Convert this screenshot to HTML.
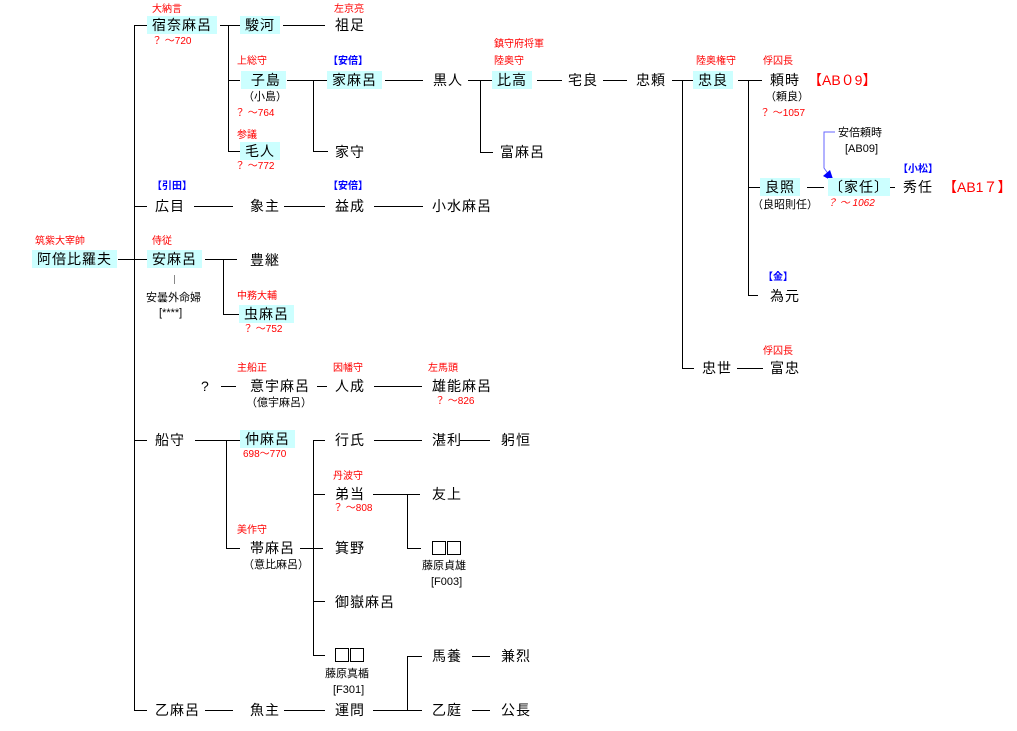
<!DOCTYPE html>
<html><head><meta charset="utf-8"><style>
body{margin:0;width:1017px;height:731px;background:#fff;position:relative;overflow:hidden;font-family:"Liberation Sans","Noto Sans CJK JP",sans-serif}
.n,.r,.b,.s,.R{position:absolute;white-space:nowrap}
.n{font-size:14px;line-height:18px;color:#000;letter-spacing:1px}
.bx{background:#ccffff;padding:0 5px}
.r{font-size:10px;line-height:12px;color:#f00}
.b{font-size:10px;line-height:12px;color:#00f;font-weight:bold}
.s{font-size:11px;line-height:14px;color:#000}
.R{font-size:14px;line-height:18px;color:#f00}
.h,.v{position:absolute;background:#000}
.h{height:1px}.v{width:1px}
.sq{position:absolute;width:12px;height:12px;border:1px solid #000}
</style></head><body>
<!-- lines -->
<div class="h" style="left:118px;top:259px;width:30px"></div>
<div class="v" style="left:134px;top:25px;height:686px"></div>
<div class="h" style="left:134px;top:25px;width:13px"></div>
<div class="h" style="left:134px;top:206px;width:13px"></div>
<div class="h" style="left:134px;top:440px;width:13px"></div>
<div class="h" style="left:134px;top:710px;width:13px"></div>
<div class="h" style="left:220px;top:25px;width:20px"></div>
<div class="v" style="left:228px;top:25px;height:126px"></div>
<div class="h" style="left:228px;top:80px;width:12px"></div>
<div class="h" style="left:228px;top:151px;width:12px"></div>
<div class="h" style="left:283px;top:25px;width:42px"></div>
<div class="h" style="left:287px;top:80px;width:40px"></div>
<div class="v" style="left:313px;top:80px;height:71px"></div>
<div class="h" style="left:313px;top:151px;width:15px"></div>
<div class="h" style="left:385px;top:80px;width:38px"></div>
<div class="h" style="left:468px;top:80px;width:25px"></div>
<div class="v" style="left:480px;top:80px;height:72px"></div>
<div class="h" style="left:480px;top:152px;width:13px"></div>
<div class="h" style="left:537px;top:80px;width:25px"></div>
<div class="h" style="left:603px;top:80px;width:24px"></div>
<div class="h" style="left:672px;top:80px;width:22px"></div>
<div class="v" style="left:682px;top:80px;height:288px"></div>
<div class="h" style="left:682px;top:368px;width:12px"></div>
<div class="h" style="left:738px;top:80px;width:24px"></div>
<div class="v" style="left:748px;top:80px;height:215px"></div>
<div class="h" style="left:748px;top:187px;width:12px"></div>
<div class="h" style="left:748px;top:295px;width:10px"></div>
<div class="h" style="left:807px;top:187px;width:17px"></div>
<div class="h" style="left:876px;top:187px;width:19px"></div>
<div class="h" style="left:737px;top:368px;width:26px"></div>
<div class="h" style="left:194px;top:206px;width:39px"></div>
<div class="h" style="left:284px;top:206px;width:41px"></div>
<div class="h" style="left:374px;top:206px;width:49px"></div>
<div class="h" style="left:205px;top:259px;width:32px"></div>
<div class="v" style="left:223px;top:259px;height:55px"></div>
<div class="h" style="left:223px;top:314px;width:16px"></div>
<div class="v" style="left:174px;top:275px;height:9px;background:#888"></div>
<div class="h" style="left:221px;top:386px;width:15px"></div>
<div class="h" style="left:317px;top:386px;width:10px"></div>
<div class="h" style="left:374px;top:386px;width:48px"></div>
<div class="h" style="left:195px;top:440px;width:45px"></div>
<div class="v" style="left:226px;top:440px;height:108px"></div>
<div class="h" style="left:226px;top:548px;width:14px"></div>
<div class="h" style="left:300px;top:548px;width:23px"></div>
<div class="v" style="left:313px;top:440px;height:215px"></div>
<div class="h" style="left:313px;top:440px;width:12px"></div>
<div class="h" style="left:313px;top:494px;width:12px"></div>
<div class="h" style="left:313px;top:601px;width:12px"></div>
<div class="h" style="left:313px;top:655px;width:12px"></div>
<div class="h" style="left:374px;top:440px;width:48px"></div>
<div class="h" style="left:460px;top:440px;width:30px"></div>
<div class="h" style="left:373px;top:494px;width:47px"></div>
<div class="v" style="left:407px;top:494px;height:54px"></div>
<div class="h" style="left:407px;top:548px;width:14px"></div>
<div class="h" style="left:205px;top:710px;width:28px"></div>
<div class="h" style="left:284px;top:710px;width:41px"></div>
<div class="h" style="left:373px;top:710px;width:49px"></div>
<div class="v" style="left:407px;top:656px;height:54px"></div>
<div class="h" style="left:407px;top:656px;width:15px"></div>
<div class="h" style="left:472px;top:656px;width:18px"></div>
<div class="h" style="left:472px;top:710px;width:18px"></div>
<svg style="position:absolute;left:0;top:0" width="1017" height="731"><polyline points="835,132 824,132 824,168 829,175" fill="none" stroke="#66f" stroke-width="1"/><polygon points="834,182 823,176 830,170" fill="#00f"/></svg>
<!-- names -->
<div class="n bx" style="left:32px;top:250px">阿倍比羅夫</div>
<div class="r" style="left:35px;top:236px">筑紫大宰帥</div>
<div class="n bx" style="left:147px;top:16px">宿奈麻呂</div>
<div class="r" style="left:152px;top:4px">大納言</div>
<div class="r" style="left:152px;top:36px">？ ～720</div>
<div class="n bx" style="left:240px;top:16px">駿河</div>
<div class="n" style="left:335px;top:16px">祖足</div>
<div class="r" style="left:334px;top:4px">左京亮</div>
<div class="r" style="left:237px;top:56px">上総守</div>
<div class="n bx" style="left:241px;top:71px">&nbsp;子島</div>
<div class="s" style="left:243px;top:90px">（小島）</div>
<div class="r" style="left:235px;top:108px">？ ～764</div>
<div class="r" style="left:237px;top:130px">参議</div>
<div class="n bx" style="left:240px;top:142px">毛人</div>
<div class="r" style="left:235px;top:161px">？ ～772</div>
<div class="b" style="left:328px;top:56px">【安倍】</div>
<div class="n bx" style="left:327px;top:71px">家麻呂</div>
<div class="n" style="left:335px;top:143px">家守</div>
<div class="n" style="left:433px;top:71px">黒人</div>
<div class="r" style="left:494px;top:39px">鎮守府将軍</div>
<div class="r" style="left:494px;top:56px">陸奥守</div>
<div class="n bx" style="left:492px;top:71px">比高</div>
<div class="n" style="left:500px;top:143px">富麻呂</div>
<div class="n" style="left:568px;top:71px">宅良</div>
<div class="n" style="left:636px;top:71px">忠頼</div>
<div class="r" style="left:696px;top:56px">陸奥権守</div>
<div class="n bx" style="left:693px;top:71px">忠良</div>
<div class="r" style="left:763px;top:56px">俘囚長</div>
<div class="n" style="left:770px;top:71px">頼時</div>
<div class="R" style="left:808px;top:71px">【AB０9】</div>
<div class="s" style="left:765px;top:90px">（頼良）</div>
<div class="r" style="left:760px;top:108px">？ ～1057</div>
<div class="s" style="left:838px;top:126px">安倍頼時</div>
<div class="s" style="left:845px;top:142px">[AB09]</div>
<div class="b" style="left:898px;top:164px">【小松】</div>
<div class="n bx" style="left:760px;top:178px">良照</div>
<div class="s" style="left:752px;top:198px">（良昭則任）</div>
<div class="n bx" style="left:828px;top:178px;padding:0 1px">〔家任〕</div>
<div class="r" style="left:827px;top:198px;font-style:italic">？ ～ 1062</div>
<div class="n" style="left:903px;top:178px">秀任</div>
<div class="R" style="left:943px;top:178px">【AB1７】</div>
<div class="b" style="left:763px;top:272px">【金】</div>
<div class="n" style="left:770px;top:287px">為元</div>
<div class="r" style="left:763px;top:346px">俘囚長</div>
<div class="n" style="left:702px;top:359px">忠世</div>
<div class="n" style="left:770px;top:359px">富忠</div>
<div class="b" style="left:152px;top:181px">【引田】</div>
<div class="n" style="left:155px;top:197px">広目</div>
<div class="n" style="left:250px;top:197px">象主</div>
<div class="b" style="left:328px;top:181px">【安倍】</div>
<div class="n" style="left:335px;top:197px">益成</div>
<div class="n" style="left:432px;top:197px">小水麻呂</div>
<div class="r" style="left:152px;top:236px">侍従</div>
<div class="n bx" style="left:147px;top:250px">安麻呂</div>
<div class="n" style="left:250px;top:251px">豊継</div>
<div class="s" style="left:146px;top:291px">安曇外命婦</div>
<div class="s" style="left:159px;top:306px">[****]</div>
<div class="r" style="left:237px;top:291px">中務大輔</div>
<div class="n bx" style="left:239px;top:305px">虫麻呂</div>
<div class="r" style="left:243px;top:324px">？ ～752</div>
<div class="r" style="left:237px;top:363px">主船正</div>
<div class="r" style="left:333px;top:363px">因幡守</div>
<div class="r" style="left:428px;top:363px">左馬頭</div>
<div class="n" style="left:201px;top:377px">?</div>
<div class="n" style="left:250px;top:377px">意宇麻呂</div>
<div class="s" style="left:246px;top:396px">（億宇麻呂）</div>
<div class="n" style="left:335px;top:377px">人成</div>
<div class="n" style="left:432px;top:377px">雄能麻呂</div>
<div class="r" style="left:435px;top:396px">？ ～826</div>
<div class="n" style="left:155px;top:431px">船守</div>
<div class="n bx" style="left:240px;top:430px">仲麻呂</div>
<div class="r" style="left:243px;top:449px">698～770</div>
<div class="n" style="left:335px;top:431px">行氏</div>
<div class="n" style="left:432px;top:431px">湛利</div>
<div class="n" style="left:501px;top:431px">躬恒</div>
<div class="r" style="left:333px;top:471px">丹波守</div>
<div class="n" style="left:335px;top:485px">弟当</div>
<div class="r" style="left:333px;top:503px">？ ～808</div>
<div class="n" style="left:432px;top:485px">友上</div>
<div class="r" style="left:237px;top:525px">美作守</div>
<div class="n" style="left:250px;top:539px">帯麻呂</div>
<div class="s" style="left:243px;top:558px">（意比麻呂）</div>
<div class="n" style="left:335px;top:539px">箕野</div>
<div class="sq" style="left:432px;top:541px"></div><div class="sq" style="left:447px;top:541px"></div>
<div class="s" style="left:422px;top:559px">藤原貞雄</div>
<div class="s" style="left:431px;top:575px">[F003]</div>
<div class="n" style="left:335px;top:593px">御嶽麻呂</div>
<div class="sq" style="left:335px;top:648px"></div><div class="sq" style="left:350px;top:648px"></div>
<div class="s" style="left:325px;top:667px">藤原真楯</div>
<div class="s" style="left:333px;top:683px">[F301]</div>
<div class="n" style="left:432px;top:647px">馬養</div>
<div class="n" style="left:501px;top:647px">兼烈</div>
<div class="n" style="left:155px;top:701px">乙麻呂</div>
<div class="n" style="left:250px;top:701px">魚主</div>
<div class="n" style="left:335px;top:701px">運問</div>
<div class="n" style="left:432px;top:701px">乙庭</div>
<div class="n" style="left:501px;top:701px">公長</div>
</body></html>
